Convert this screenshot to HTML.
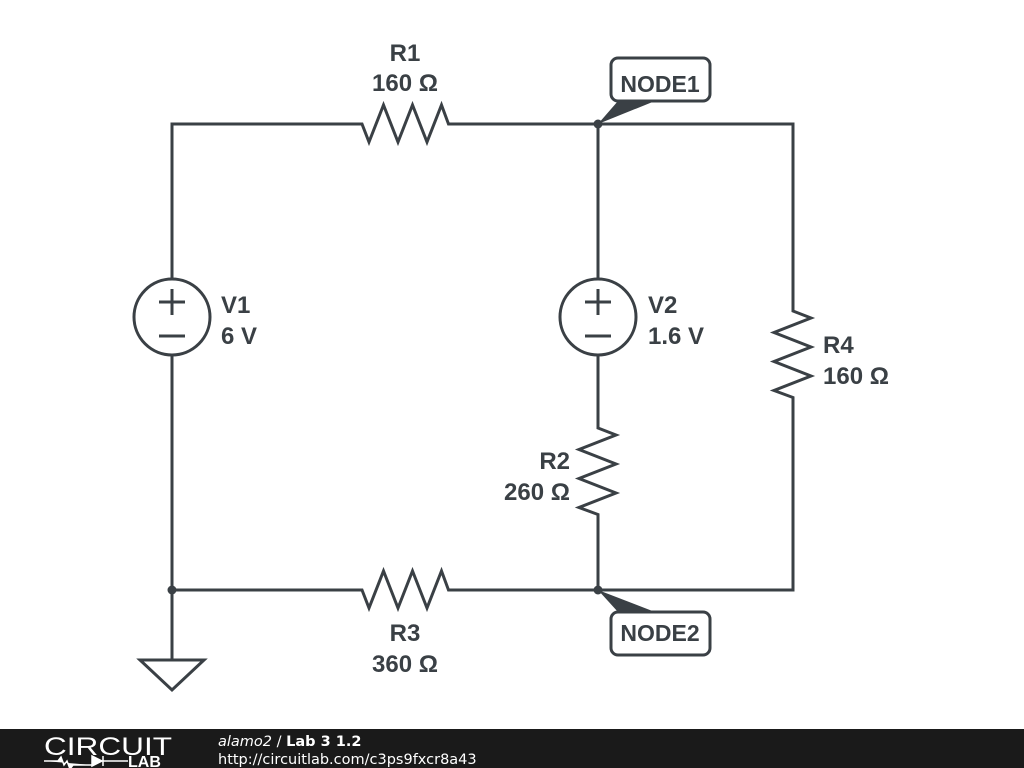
<!DOCTYPE html>
<html><head><style>body{margin:0;background:#fff}svg{display:block}</style></head><body>
<svg width="1024" height="768" xmlns="http://www.w3.org/2000/svg">
<g stroke="#3a4045" stroke-width="3" fill="none" stroke-linejoin="miter">
<path d="M172 279 V124 H362 l7 18 l14.5 -37 l14.5 37 l14.5 -37 l14.5 37 l14.5 -37 l7 19 H793 V311 l18 7 l-37 14.5 l37 14.5 l-37 14.5 l37 14.5 l-37 14.5 l19 7 V590 H598"/>
<path d="M172 355 V660"/>
<path d="M598 124 V279"/>
<path d="M598 355 V428 l18 7 l-37 14.5 l37 14.5 l-37 14.5 l37 14.5 l-37 14.5 l19 7 V590"/>
<path d="M172 590 H362 l7 18 l14.5 -37 l14.5 37 l14.5 -37 l14.5 37 l14.5 -37 l7 19 H598"/>
<path d="M140 660 H204 L172 690 Z"/>
<circle cx="172" cy="317" r="38"/>
<circle cx="598" cy="317" r="38"/>
<path d="M159 302 H185 M172 289 V315 M159 336 H185"/>
<path d="M585 302 H611 M598 289 V315 M585 336 H611"/>
<rect x="611" y="58" width="99" height="43" rx="7"/>
<rect x="611" y="612" width="99" height="43" rx="7"/>
</g>
<g fill="#3a4045">
<circle cx="598" cy="124" r="4.5"/>
<circle cx="598" cy="590" r="4.5"/>
<circle cx="172" cy="590" r="4.5"/>
<path d="M598 124 L618 101 L655 101 Z"/>
<path d="M598 590 L618 612 L655 612 Z"/>
</g>
<g font-family="Liberation Sans, sans-serif" font-weight="bold" font-size="24" fill="#3a4045">
<text x="405" y="61" text-anchor="middle">R1</text>
<text x="405" y="91" text-anchor="middle">160 Ω</text>
<text x="660" y="92" text-anchor="middle" font-size="23">NODE1</text>
<text x="660" y="641" text-anchor="middle" font-size="23">NODE2</text>
<text x="221" y="313">V1</text>
<text x="221" y="344">6 V</text>
<text x="648" y="313">V2</text>
<text x="648" y="344">1.6 V</text>
<text x="823" y="353">R4</text>
<text x="823" y="384">160 Ω</text>
<text x="570" y="469" text-anchor="end">R2</text>
<text x="570" y="500" text-anchor="end">260 Ω</text>
<text x="405" y="641" text-anchor="middle">R3</text>
<text x="405" y="672" text-anchor="middle">360 Ω</text>
</g>
<rect x="0" y="729" width="1024" height="39" fill="#1a1a1a"/>
<text x="44" y="755" font-family="Liberation Sans, sans-serif" font-size="25" fill="#fff" textLength="128" lengthAdjust="spacingAndGlyphs">CIRCUIT</text>
<path d="M44 761 H58 l3 -4 l3 8 l3 -4 l3 8 l3 -4 H92 M92 756 V766 L102 761 Z M103 756 V766 M103 761 H128" stroke="#fff" stroke-width="1.5" fill="#fff"/>
<text x="128" y="767" font-family="Liberation Sans, sans-serif" font-weight="bold" font-size="16" fill="#fff">LAB</text>
<text x="218" y="746" font-family="DejaVu Sans, sans-serif" font-size="14.5" fill="#fff"><tspan font-style="italic">alamo2</tspan> / <tspan font-weight="bold">Lab 3 1.2</tspan></text>
<text x="218" y="764" font-family="DejaVu Sans, sans-serif" font-size="14.5" fill="#fff">http://circuitlab.com/c3ps9fxcr8a43</text>
</svg>
</body></html>
